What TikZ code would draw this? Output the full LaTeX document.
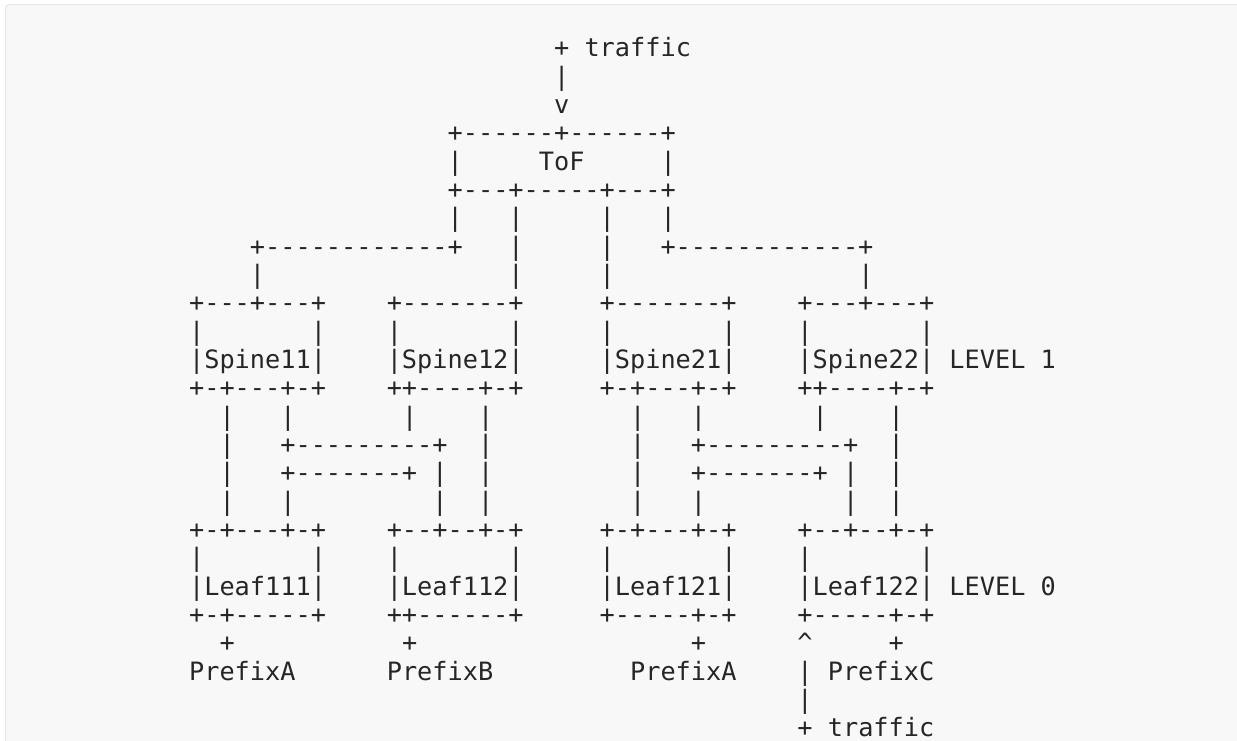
\documentclass[tikz,border=0pt]{standalone}
\usepackage{fontspec}
\setmonofont{DejaVu Sans Mono}
\definecolor{codebg}{HTML}{F8F8F8}
\definecolor{codeborder}{HTML}{E8E8E8}
\definecolor{ink}{HTML}{262626}
\newlength\cw
\setlength\cw{15.208pt}
\newcommand\gap[1]{\hspace*{#1\cw}}
\newcommand\asciiline[4]{\node[asciirow] (#1) at ({189.1+#3*15.208},{56.7+#2*28.333}) {#4};}
\begin{document}
\begin{tikzpicture}[x=1pt,y=-1pt,
  asciirow/.style={anchor=base west, inner sep=0pt, outer sep=0pt, text=ink,
    font=\ttfamily\fontsize{25.26pt}{28pt}\selectfont}]
\useasboundingbox (0,0) rectangle (1237,740);
\fill[white] (0,0) rectangle (1237,740);
\draw[draw=codeborder, fill=codebg, rounded corners=4pt, line width=1.2pt] (5.5,4.5) rectangle (1262,765);
\asciiline{r0}{0}{24}{+ traffic}
\asciiline{r1}{1}{24}{|}
\asciiline{r2}{2}{24}{v}
\asciiline{r3}{3}{17}{+------+------+}
\asciiline{r4}{4}{17}{|\gap{5}ToF\gap{5}|}
\asciiline{r5}{5}{17}{+---+-----+---+}
\asciiline{r6}{6}{17}{|\gap{3}|\gap{5}|\gap{3}|}
\asciiline{r7}{7}{4}{+------------+\gap{3}|\gap{5}|\gap{3}+------------+}
\asciiline{r8}{8}{4}{|\gap{16}|\gap{5}|\gap{16}|}
\asciiline{r9}{9}{0}{+---+---+\gap{4}+-------+\gap{5}+-------+\gap{4}+---+---+}
\asciiline{r10}{10}{0}{|\gap{7}|\gap{4}|\gap{7}|\gap{5}|\gap{7}|\gap{4}|\gap{7}|}
\asciiline{r11}{11}{0}{|Spine11|\gap{4}|Spine12|\gap{5}|Spine21|\gap{4}|Spine22| LEVEL 1}
\asciiline{r12}{12}{0}{+-+---+-+\gap{4}++----+-+\gap{5}+-+---+-+\gap{4}++----+-+}
\asciiline{r13}{13}{2}{|\gap{3}|\gap{7}|\gap{4}|\gap{9}|\gap{3}|\gap{7}|\gap{4}|}
\asciiline{r14}{14}{2}{|\gap{3}+---------+\gap{2}|\gap{9}|\gap{3}+---------+\gap{2}|}
\asciiline{r15}{15}{2}{|\gap{3}+-------+ |\gap{2}|\gap{9}|\gap{3}+-------+ |\gap{2}|}
\asciiline{r16}{16}{2}{|\gap{3}|\gap{9}|\gap{2}|\gap{9}|\gap{3}|\gap{9}|\gap{2}|}
\asciiline{r17}{17}{0}{+-+---+-+\gap{4}+--+--+-+\gap{5}+-+---+-+\gap{4}+--+--+-+}
\asciiline{r18}{18}{0}{|\gap{7}|\gap{4}|\gap{7}|\gap{5}|\gap{7}|\gap{4}|\gap{7}|}
\asciiline{r19}{19}{0}{|Leaf111|\gap{4}|Leaf112|\gap{5}|Leaf121|\gap{4}|Leaf122| LEVEL 0}
\asciiline{r20}{20}{0}{+-+-----+\gap{4}++------+\gap{5}+-----+-+\gap{4}+-----+-+}
\asciiline{r21}{21}{2}{+\gap{11}+\gap{18}+\gap{6}\textasciicircum\gap{5}+}
\asciiline{r22}{22}{0}{PrefixA\gap{6}PrefixB\gap{9}PrefixA\gap{4}| PrefixC}
\asciiline{r23}{23}{40}{|}
\asciiline{r24}{24}{40}{+ traffic}
\end{tikzpicture}
\end{document}
